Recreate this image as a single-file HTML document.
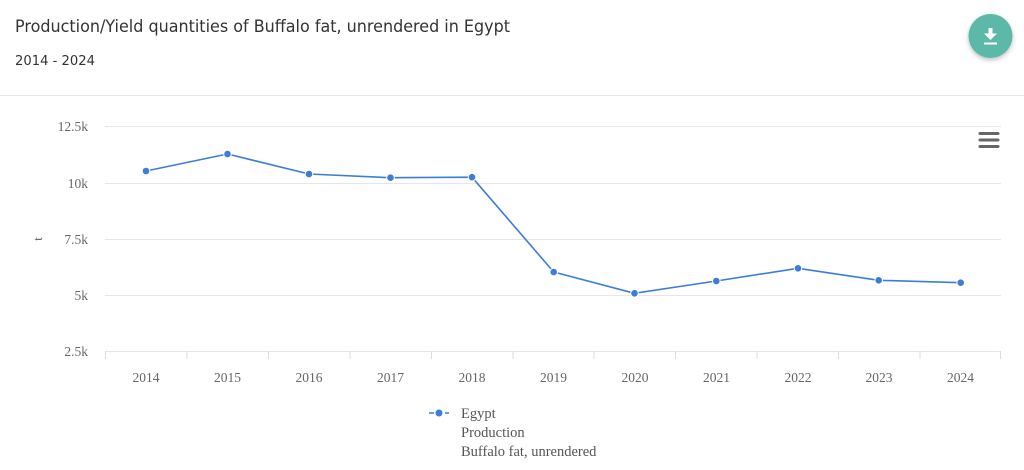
<!DOCTYPE html>
<html><head><meta charset="utf-8"><style>
html,body{margin:0;padding:0;background:#fff;}
body{width:1024px;height:470px;overflow:hidden;position:relative;font-family:"Liberation Sans",sans-serif;}
</style></head><body>
<svg width="1024" height="470" viewBox="0 0 1024 470" xmlns="http://www.w3.org/2000/svg" style="position:absolute;left:0;top:0">
<defs>
<filter id="sh" x="-50%" y="-50%" width="200%" height="200%"><feDropShadow dx="0" dy="2" stdDeviation="2.5" flood-color="#000" flood-opacity="0.25"/></filter>
</defs>
<text x="15" y="32" font-family="'DejaVu Sans','Liberation Sans',sans-serif" font-size="16.5" fill="#333" textLength="495" lengthAdjust="spacingAndGlyphs">Production/Yield quantities of Buffalo fat, unrendered in Egypt</text>
<text x="15" y="65" font-family="'DejaVu Sans','Liberation Sans',sans-serif" font-size="13.5" fill="#333" textLength="80" lengthAdjust="spacingAndGlyphs">2014 - 2024</text>
<line x1="0" y1="95.5" x2="1024" y2="95.5" stroke="#e6e6e6" stroke-width="1"/>
<circle cx="990.5" cy="36" r="22" fill="#5cb8a9" filter="url(#sh)"/>
<rect x="988.5" y="28" width="4" height="6" fill="#fff"/>
<polygon points="984,33.5 997,33.5 990.5,40" fill="#fff"/>
<rect x="984" y="42.5" width="13" height="2" fill="#fff"/>
<g stroke="#e6e6e6" stroke-width="1">
<line x1="105" y1="126.5" x2="1001" y2="126.5"/>
<line x1="105" y1="183.5" x2="1001" y2="183.5"/>
<line x1="105" y1="239.5" x2="1001" y2="239.5"/>
<line x1="105" y1="295.5" x2="1001" y2="295.5"/>
</g>
<line x1="105" y1="351.5" x2="1001" y2="351.5" stroke="#ccd6eb" stroke-opacity="0.6" stroke-width="1"/>
<g stroke="#ddd" stroke-width="1">
<line x1="105.5" y1="351" x2="105.5" y2="359"/>
<line x1="187" y1="351" x2="187" y2="359"/>
<line x1="268.5" y1="351" x2="268.5" y2="359"/>
<line x1="350" y1="351" x2="350" y2="359"/>
<line x1="431.5" y1="351" x2="431.5" y2="359"/>
<line x1="513" y1="351" x2="513" y2="359"/>
<line x1="594" y1="351" x2="594" y2="359"/>
<line x1="675.5" y1="351" x2="675.5" y2="359"/>
<line x1="757" y1="351" x2="757" y2="359"/>
<line x1="838.5" y1="351" x2="838.5" y2="359"/>
<line x1="920" y1="351" x2="920" y2="359"/>
<line x1="1000.5" y1="351" x2="1000.5" y2="359"/>
</g>
<g font-family="'Liberation Serif',serif" font-size="13.5" fill="#666" text-anchor="end">
<text x="88" y="131">12.5k</text>
<text x="88" y="188">10k</text>
<text x="88" y="244">7.5k</text>
<text x="88" y="300">5k</text>
<text x="88" y="356">2.5k</text>
</g>
<text x="38" y="239" font-family="'Liberation Serif',serif" font-size="13" fill="#666" text-anchor="middle" transform="rotate(-90 38 239)" dy="4">t</text>
<g font-family="'Liberation Serif',serif" font-size="13.5" fill="#666" text-anchor="middle">
<text x="146" y="382">2014</text>
<text x="227.5" y="382">2015</text>
<text x="309" y="382">2016</text>
<text x="390.5" y="382">2017</text>
<text x="472" y="382">2018</text>
<text x="553.5" y="382">2019</text>
<text x="635" y="382">2020</text>
<text x="716.5" y="382">2021</text>
<text x="798" y="382">2022</text>
<text x="879" y="382">2023</text>
<text x="960.5" y="382">2024</text>
</g>
<polyline fill="none" stroke="#3c7dd9" stroke-width="1.6" stroke-linejoin="round" points="146,171 227.5,154 309,174 390.5,177.7 472,177.2 553.7,272 634.5,293.3 716.3,281 798,268.3 878.7,280.3 960.7,282.7"/>
<g fill="#3c7dd9" stroke="#fff" stroke-width="1">
<circle cx="146" cy="171" r="3.8"/>
<circle cx="227.5" cy="154" r="3.8"/>
<circle cx="309" cy="174" r="3.8"/>
<circle cx="390.5" cy="177.7" r="3.8"/>
<circle cx="472" cy="177.2" r="3.8"/>
<circle cx="553.7" cy="272" r="3.8"/>
<circle cx="634.5" cy="293.3" r="3.8"/>
<circle cx="716.3" cy="281" r="3.8"/>
<circle cx="798" cy="268.3" r="3.8"/>
<circle cx="878.7" cy="280.3" r="3.8"/>
<circle cx="960.7" cy="282.7" r="3.8"/>
</g>
<g stroke="#666" stroke-width="3" stroke-linecap="round">
<line x1="980" y1="133.5" x2="998" y2="133.5"/>
<line x1="980" y1="140" x2="998" y2="140"/>
<line x1="980" y1="146.5" x2="998" y2="146.5"/>
</g>
<line x1="429" y1="413" x2="449" y2="413" stroke="#3c7dd9" stroke-width="1.6" stroke-dasharray="5,3"/>
<circle cx="439" cy="413" r="3.5" fill="#3c7dd9"/>
<g font-family="'Liberation Serif',serif" font-size="14.5" fill="#555">
<text x="461" y="418">Egypt</text>
<text x="461" y="437">Production</text>
<text x="461" y="456">Buffalo fat, unrendered</text>
</g>
</svg>
</body></html>
